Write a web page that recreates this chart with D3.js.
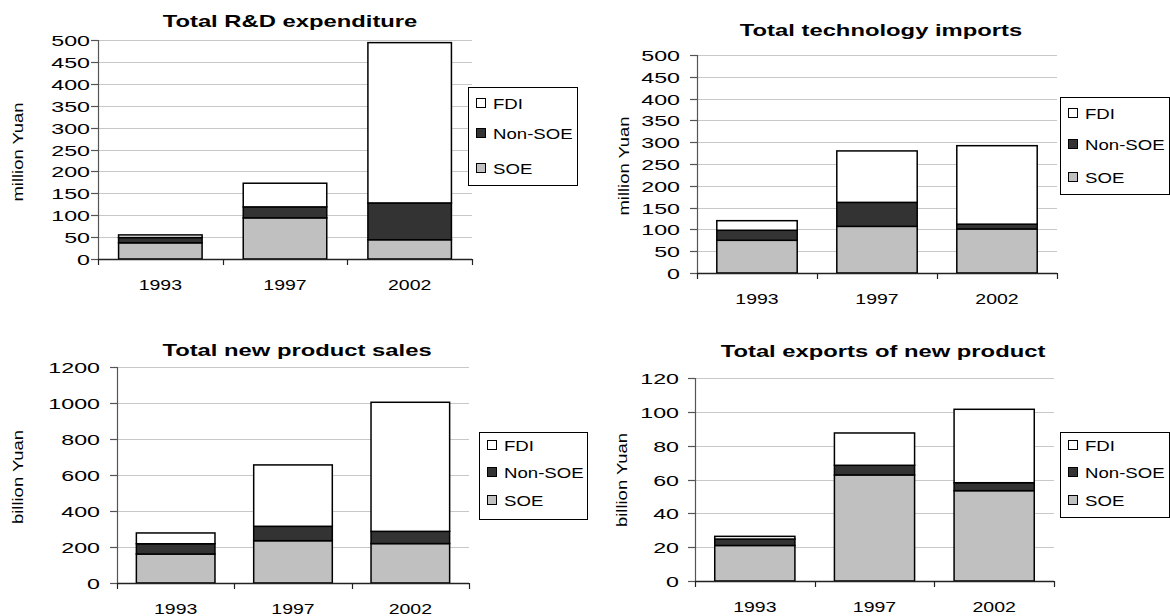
<!DOCTYPE html>
<html>
<head>
<meta charset="utf-8">
<script src="https://cdn.jsdelivr.net/npm/d3@7"></script>
<style>
body { margin: 0; background: #fff; }
svg { display: block; font-family: "Liberation Sans", Arial, sans-serif; }
</style>
</head>
<body>
<svg id="chart" width="1170" height="616"></svg>
<script>
var years = ['1993', '1997', '2002'];
var seriesNames = ['SOE', 'Non-SOE', 'FDI'];
var legendOrder = ['FDI', 'Non-SOE', 'SOE'];

// values per chart, one array per series, in the order of years
var rdSOE = [37, 94, 44];
var rdNonSOE = [12, 25, 84];
var rdFDI = [6, 54, 366];

var impSOE = [75, 107, 101];
var impNonSOE = [23, 55, 11];
var impFDI = [22, 118, 180];

var salesSOE = [161, 235, 219];
var salesNonSOE = [57, 80, 68];
var salesFDI = [60, 341, 717];

var expSOE = [21, 62.7, 53.4];
var expNonSOE = [3.8, 5.7, 4.7];
var expFDI = [1.6, 19.1, 43.4];

var titles = ['Total R&D expenditure', 'Total technology imports', 'Total new product sales', 'Total exports of new product'];
var units = ['million Yuan', 'million Yuan', 'billion Yuan', 'billion Yuan'];
var yMax = [500, 500, 1200, 120];
var yStep = [50, 50, 200, 20];

var colors = {'SOE': '#c0c0c0', 'Non-SOE': '#333333', 'FDI': '#ffffff'};

var panels = [
	{ l: 98,  r: 472,  t: 40,  b: 259, gap: 8,  tx: 290, ty: 27,  yl: 18,  yly: 152, lg: [468, 87, 109, 98],   rows: [103, 133, 168], s: [rdSOE, rdNonSOE, rdFDI] },
	{ l: 697, r: 1057, t: 55,  b: 273, gap: 17, tx: 881, ty: 36,  yl: 624, yly: 166, lg: [1060, 97, 109, 97],  rows: [113, 144, 177], s: [impSOE, impNonSOE, impFDI] },
	{ l: 117, r: 469,  t: 367, b: 583, gap: 17, tx: 297, ty: 356, yl: 18,  yly: 477, lg: [479, 432, 108, 87],  rows: [445, 472, 500], s: [salesSOE, salesNonSOE, salesFDI] },
	{ l: 695, r: 1054, t: 378, b: 581, gap: 16, tx: 883, ty: 357, yl: 622, yly: 480, lg: [1060, 432, 109, 85], rows: [445, 472, 500], s: [expSOE, expNonSOE, expFDI] }
];

var svg = d3.select('#chart');

// the original's text is stretched sideways, so each text gets a x-scale
function stretchText(g, x, y, str, size, sx, weight, anchor) {
	return g.append('text')
		.attr('transform', 'translate(' + x + ',' + y + ') scale(' + sx + ',1)')
		.attr('text-anchor', anchor || 'middle')
		.attr('font-size', size)
		.attr('font-weight', weight || 'normal')
		.attr('fill', '#000')
		.text(str);
}

panels.forEach(function(p, i) {
	var g = svg.append('g');
	var rows = years.map(function(y, j) {
		var o = { year: y };
		seriesNames.forEach(function(n, k) { o[n] = p.s[k][j]; });
		return o;
	});
	var stacked = d3.stack().keys(seriesNames)(rows);

	var x = d3.scaleBand().domain(years).range([p.l, p.r]).paddingInner(0.33).paddingOuter(0.165);
	var y = d3.scaleLinear().domain([0, yMax[i]]).range([p.b, p.t]);
	var ticks = d3.range(0, yMax[i] + yStep[i] / 2, yStep[i]);

	// gridlines
	g.selectAll('.grid').data(ticks.slice(1)).enter().append('line')
		.attr('x1', p.l).attr('x2', p.r)
		.attr('y1', function(d) { return Math.round(y(d)) + 0.5; })
		.attr('y2', function(d) { return Math.round(y(d)) + 0.5; })
		.attr('stroke', '#c8c8c8').attr('stroke-width', 1);

	// bars
	stacked.forEach(function(layer) {
		g.selectAll(null).data(layer).enter().append('rect')
			.attr('x', function(d) { return x(d.data.year); })
			.attr('width', x.bandwidth())
			.attr('y', function(d) { return y(d[1]); })
			.attr('height', function(d) { return y(d[0]) - y(d[1]); })
			.attr('fill', colors[layer.key])
			.attr('stroke', '#000').attr('stroke-width', 1.5);
	});

	// y axis
	g.append('line').attr('x1', p.l + 0.5).attr('x2', p.l + 0.5).attr('y1', p.t).attr('y2', p.b)
		.attr('stroke', '#555').attr('stroke-width', 1.2);
	ticks.forEach(function(t) {
		var yy = Math.round(y(t)) + 0.5;
		g.append('line').attr('x1', p.l - 7).attr('x2', p.l).attr('y1', yy).attr('y2', yy)
			.attr('stroke', '#555').attr('stroke-width', 1.2);
		stretchText(g, p.l - p.gap, yy + 5.5, t, 15, 1.55, 'normal', 'end');
	});

	// x axis
	g.append('line').attr('x1', p.l).attr('x2', p.r).attr('y1', p.b + 0.5).attr('y2', p.b + 0.5)
		.attr('stroke', '#222').attr('stroke-width', 1.5);
	var step = x.step();
	d3.range(0, years.length + 1).forEach(function(k) {
		var xx = Math.round(p.l + k * step) + 0.5;
		g.append('line').attr('x1', xx).attr('x2', xx).attr('y1', p.b).attr('y2', p.b + 6)
			.attr('stroke', '#222').attr('stroke-width', 1.2);
	});
	years.forEach(function(yr) {
		stretchText(g, x(yr) + x.bandwidth() / 2, p.b + 31, yr, 15, 1.3);
	});

	// title
	stretchText(g, p.tx, p.ty, titles[i], 17, 1.4, 'bold');

	// y label
	g.append('text')
		.attr('transform', 'translate(' + p.yl + ',' + p.yly + ') rotate(-90) scale(1.32,1)')
		.attr('text-anchor', 'middle').attr('dy', '0.35em')
		.attr('font-size', 14).text(units[i]);

	// legend
	var lg = p.lg;
	g.append('rect').attr('x', lg[0] + 0.5).attr('y', lg[1] + 0.5).attr('width', lg[2]).attr('height', lg[3])
		.attr('fill', '#fff').attr('stroke', '#000').attr('stroke-width', 1);
	legendOrder.forEach(function(n, k) {
		var ry = p.rows[k];
		g.append('rect').attr('x', lg[0] + 8.5).attr('y', ry - 4.5).attr('width', 9).attr('height', 9)
			.attr('fill', colors[n]).attr('stroke', '#000').attr('stroke-width', 1);
		stretchText(g, lg[0] + 25, ry + 5.5, n, 14, 1.33, 'normal', 'start');
	});
});
</script>
</body>
</html>
